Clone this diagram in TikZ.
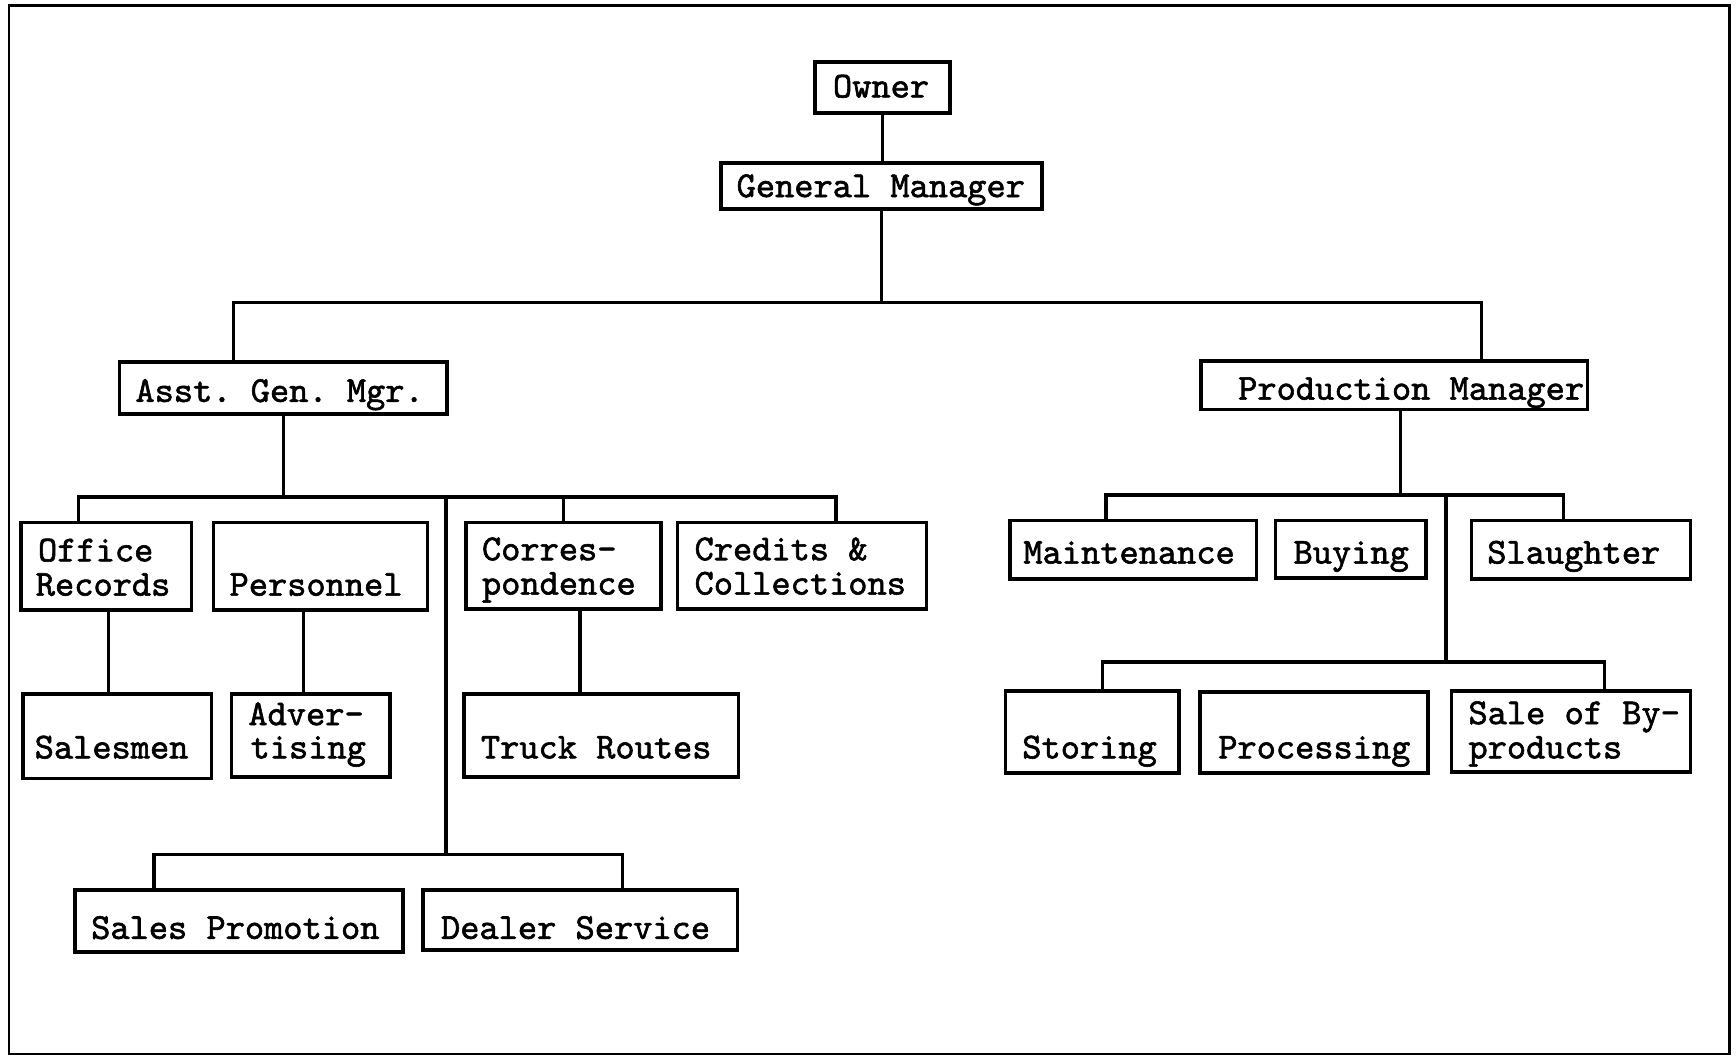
\documentclass[tikz,border=0pt]{standalone}
\usepackage{fontspec}
\newfontfamily\tw{lmmono10-regular.otf}[FakeBold=1.6]
\usetikzlibrary{fit}
\newcommand\obox[5]{\node[box,fit={(#2,#3) (#4,#5)}] (#1) {};}
\newcommand\otxt[4]{\node[lbl] (#1) at (#2,#3) {#4};}
\frenchspacing
\begin{document}
\begin{tikzpicture}[x=0.5535pt,y=-0.5535pt,
  box/.style={draw,line width=1.8pt,inner sep=0pt,line join=miter},
  lbl/.style={anchor=base west,inner sep=0pt,font=\tw\frenchspacing\fontsize{18.3}{18}\selectfont},
  conn/.style={line width=1.7pt}]
\useasboundingbox (0,0) rectangle (1568,955);
\fill[white] (0,0) rectangle (1568,955);
\draw[line width=1.3pt] (8,5) rectangle (1562,952);

% top
\obox{owner}{736}{56}{858}{102}
\otxt{ownert}{752}{88}{Owner}
\obox{gm}{651}{147}{941}{189}
\otxt{gmt}{665}{178}{General Manager}

% second level
\obox{agm}{108}{327}{404}{374}
\otxt{agmt}{122}{363}{Asst. Gen. Mgr.}
\obox{pm}{1085}{326}{1434}{370}
\otxt{pmt}{1118}{361}{Production Manager}

% left third level
\obox{or}{19}{472}{173}{551}
\otxt{ort1}{34}{507}{Office}
\otxt{ort2}{32}{538}{Records}
\obox{pers}{193}{472}{386}{551}
\otxt{perst}{207}{538}{Personnel}
\obox{corr}{421}{472}{597}{550}
\otxt{corrt1}{435}{506}{Corres-}
\otxt{corrt2}{435}{537}{pondence}
\obox{cc}{612}{472}{837}{550}
\otxt{cct1}{627}{506}{Credits \&}
\otxt{cct2}{627}{537}{Collections}

% left fourth level
\obox{sm}{21}{627}{191}{703}
\otxt{smt}{31}{685}{Salesmen}
\obox{adv}{209}{627}{352}{702}
\otxt{advt1}{224}{655}{Adver-}
\otxt{advt2}{226}{685}{tising}
\obox{tr}{419}{627}{667}{702}
\otxt{trt}{434}{685}{Truck Routes}

% left fifth level
\obox{sp}{68}{804}{364}{860}
\otxt{spt}{82}{848}{Sales Promotion}
\obox{ds}{382}{804}{666}{858}
\otxt{dst}{398}{848}{Dealer Service}

% right third level
\obox{mt}{912}{470}{1135}{523}
\otxt{mtt}{924}{509}{Maintenance}
\obox{buy}{1152}{470}{1288}{522}
\otxt{buyt}{1168}{509}{Buying}
\obox{sl}{1329}{470}{1527}{523}
\otxt{slt}{1343}{509}{Slaughter}

% right fourth level
\obox{st}{908}{624}{1065}{698}
\otxt{stt}{923}{685}{Storing}
\obox{proc}{1084}{625}{1290}{698}
\otxt{proct}{1100}{685}{Processing}
\obox{sb}{1311}{624}{1527}{697}
\otxt{sbt1}{1326}{654}{Sale of By-}
\otxt{sbt2}{1326}{685}{products}

% junction coordinates
\coordinate (cL) at (211,273);
\coordinate (cR) at (1338,273);
\coordinate (a1) at (71,449);
\coordinate (a2) at (755,449);
\coordinate (t1) at (403,449);
\coordinate (t2) at (403,772);
\coordinate (s1) at (139,772);
\coordinate (s2) at (562,772);
\coordinate (p1) at (274,600);
\coordinate (c1) at (524,590);
\coordinate (o1) at (98,590);
\coordinate (r0) at (1265,447);
\coordinate (r1) at (999,447);
\coordinate (r2) at (1412,447);
\coordinate (r3) at (1306,447);
\coordinate (r4) at (1306,598);
\coordinate (r5) at (996,598);
\coordinate (r6) at (1449,598);

% connectors
\draw[conn] (owner.south) -- (owner.south |- gm.north);
\draw[conn] (gm.south) -- (gm.south |- cL);
\draw[conn] (cL |- agm.north) -- (cL) -- (cR) -- (cR |- pm.north);

\draw[conn] (agm.south) -- (agm.south |- a1);
\draw[conn] (a1 |- or.north) -- (a1) -- (a2) -- (a2 |- cc.north);
\draw[conn] (corr.north) -- (corr.north |- a1);
\draw[conn] (t1) -- (t2);
\draw[conn] (s1 |- sp.north) -- (s1) -- (s2) -- (s2 |- ds.north);
\draw[conn] (o1 |- or.south) -- (o1 |- sm.north);
\draw[conn] (p1 |- pers.south) -- (p1 |- adv.north);
\draw[conn] (c1 |- corr.south) -- (c1 |- tr.north);

\draw[conn] (r0 |- pm.south) -- (r0);
\draw[conn] (r1 |- mt.north) -- (r1) -- (r2) -- (r2 |- sl.north);
\draw[conn] (r3) -- (r4);
\draw[conn] (r5 |- st.north) -- (r5) -- (r6) -- (r6 |- sb.north);
\end{tikzpicture}
\end{document}
